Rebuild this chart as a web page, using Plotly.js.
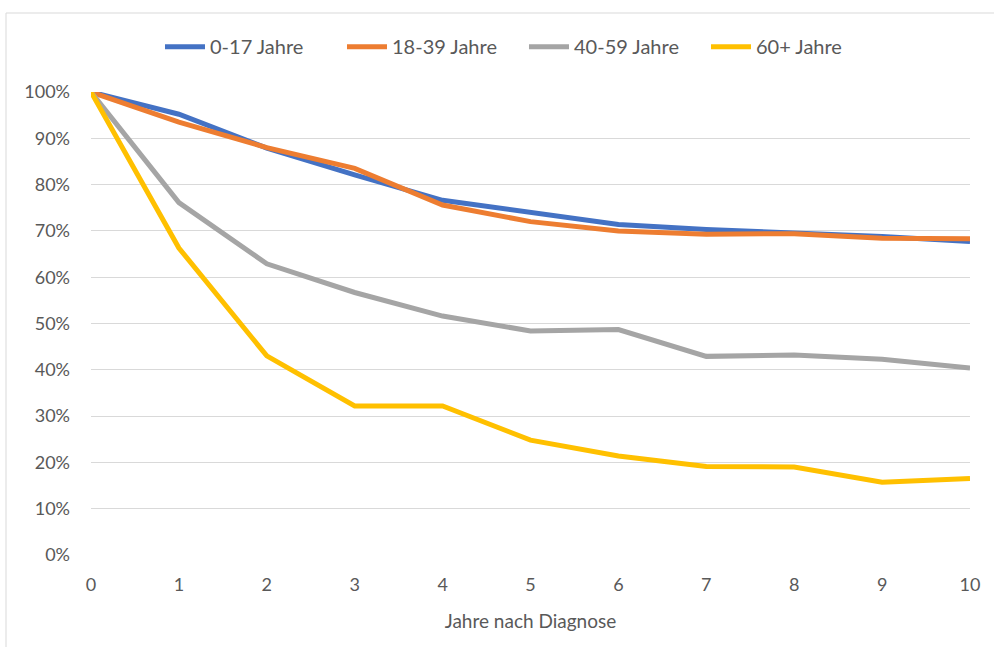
<!DOCTYPE html>
<html>
<head>
<meta charset="utf-8">
<script src="https://cdn.plot.ly/plotly-3.0.1.min.js"></script>
<style>html,body{margin:0;padding:0;background:#fff;}#chart{width:994px;height:647px;}</style>
</head>
<body>
<div id="chart"></div>
<script>
const years = [0, 1, 2, 3, 4, 5, 6, 7, 8, 9, 10];
const seriesNames = ["0-17 Jahre", "18-39 Jahre", "40-59 Jahre", "60+ Jahre"];
const age0_17 = [1.00, 0.952, 0.879, 0.821, 0.766, 0.740, 0.714, 0.703, 0.696, 0.688, 0.677];
const age18_39 = [1.00, 0.935, 0.880, 0.835, 0.756, 0.720, 0.700, 0.693, 0.694, 0.684, 0.683];
const age40_59 = [1.00, 0.761, 0.629, 0.567, 0.516, 0.484, 0.487, 0.429, 0.432, 0.423, 0.404];
const age60plus = [1.00, 0.663, 0.430, 0.322, 0.322, 0.248, 0.214, 0.191, 0.190, 0.157, 0.165];
const colors = ["#4472C4", "#ED7D31", "#A5A5A5", "#FFC000"];
const allSeries = [age0_17, age18_39, age40_59, age60plus];

const traces = allSeries.map((vals, i) => ({
  x: years, y: vals, name: seriesNames[i], type: "scatter", mode: "lines",
  line: {color: colors[i], width: 5}, cliponaxis: false, hoverinfo: "skip"
}));

const font = "Lato, 'Open Sans', sans-serif";
const layout = {
  width: 994, height: 647,
  margin: {l: 91, r: 24, t: 92, b: 92},
  paper_bgcolor: "#fff", plot_bgcolor: "#fff",
  font: {family: font, size: 18, color: "#595959"},
  showlegend: true,
  legend: {orientation: "h", x: 0.4926, xanchor: "center", y: 1.098, yanchor: "middle",
           font: {family: font, size: 20, color: "#595959"}, itemwidth: 40, tracegroupgap: 0,
           entrywidth: 127, entrywidthmode: "pixels"},
  xaxis: {range: [0, 10], dtick: 1, tick0: 0, showgrid: false, zeroline: false, showline: false,
          ticks: "", ticklabelstandoff: 17,
          title: {text: "Jahre nach Diagnose", font: {family: font, size: 19, color: "#595959"}, standoff: 20}},
  yaxis: {range: [0, 1], dtick: 0.1, tickformat: ".0%", showgrid: true, gridcolor: "#d9d9d9", gridwidth: 1,
          zeroline: false, showline: false, ticks: "", ticklabelstandoff: 20},
  shapes: [{type: "rect", xref: "paper", yref: "paper", x0: -0.0967, x1: 1.2, y0: -0.3, y1: 1.1706,
            line: {color: "#d9d9d9", width: 1}, fillcolor: "rgba(0,0,0,0)", layer: "below"}]
};
Plotly.newPlot("chart", traces, layout, {staticPlot: true, displayModeBar: false});
</script>
</body>
</html>
